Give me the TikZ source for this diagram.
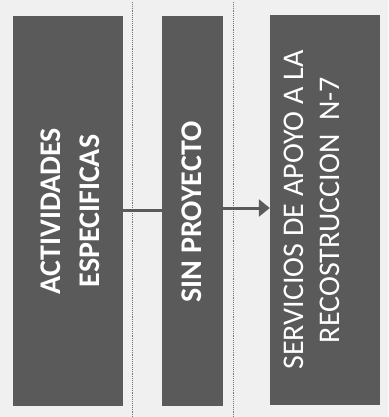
\documentclass[tikz,border=0pt]{standalone}
\usepackage{fontspec}
\setmainfont{Carlito}
\usepackage{tikz}
\usetikzlibrary{positioning,arrows.meta}
\definecolor{boxgray}{RGB}{90, 90, 90}
\definecolor{paper}  {RGB}{240,240,240}
\definecolor{rule}   {RGB}{120,120,120}

\begin{document}
\begin{tikzpicture}[x=1pt,y=-1pt,
    every node/.style={fill=boxgray,text=white,inner sep=0pt,font=\fontsize{30}{36}\selectfont},
    link/.style={line width=3pt,draw=boxgray}]

    \fill[paper] (0,0) rectangle (388,417);
    \useasboundingbox (0,0) rectangle (388,417);

    \draw[rule,densely dotted,line width=0.9pt] (132,2) -- (132,417);
    \draw[rule,densely dotted,line width=0.9pt] (233,2) -- (233,417);

    \node[minimum width=110pt,minimum height=390pt] (act) at(68,211) {};
    \node[minimum width=61pt,minimum height=390pt] (sin) at(192.5,211) {};
    \node[minimum width=110pt,minimum height=390pt] (ser) at(325,210) {};

    \node[rotate=90,align=center,font=\bfseries\fontsize{30}{39}\selectfont] (actt) at(70,211) {ACTIVIDADES\\ESPECIFICAS};
    \node[rotate=90,font=\bfseries\fontsize{30}{36}\selectfont] (sint) at(192,212) {SIN PROYECTO};
    \node[rotate=90,align=center] (sert) at(312,210) {SERVICIOS DE APOYO A LA\\RECOSTRUCCION\ \ N-7};

    \draw[link] (act.east |- 0,210) -- (sin.west |- 0,210);
    \draw[link,-{Triangle[width=17pt,length=11pt]}] (sin.east |- 0,208) -- (ser.west |- 0,208);

\end{tikzpicture}
\end{document}
